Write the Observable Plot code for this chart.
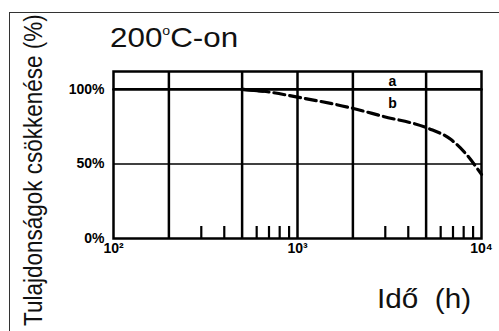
<!DOCTYPE html>
<html><head><meta charset="utf-8">
<script src="https://cdn.jsdelivr.net/npm/d3@7"></script>
<script src="https://cdn.jsdelivr.net/npm/@observablehq/plot@0.6"></script>
<style>
body{margin:0;background:#fff;}
#wrap{position:relative;width:499px;height:331px;overflow:hidden;background:#fff;font-family:"Liberation Sans",Arial,sans-serif;color:#111;}
#frame{position:absolute;left:9px;top:12px;width:520px;height:340px;border-left:1.5px solid #333;border-top:1.5px solid #333;}
#chart{position:absolute;left:0;top:0;}
#title{position:absolute;left:110px;top:17px;font-size:28px;line-height:29px;white-space:nowrap;transform:scaleX(1.12);transform-origin:0 0;}
#title sup{font-size:0.45em;vertical-align:0.95em;}
#xlabel{position:absolute;left:377px;top:285px;font-size:27px;line-height:28px;white-space:pre;transform:scaleX(1.1);transform-origin:0 0;}
#yclip{position:absolute;left:0;top:13px;width:60px;height:318px;overflow:hidden;}
#ylabel{position:absolute;left:0;top:0;font-size:22.5px;line-height:22px;white-space:nowrap;transform-origin:0 0;transform:translate(22px,313px) rotate(-90deg) scaleY(1.13);}
</style>
</head><body>
<div id="wrap">
  <div id="frame"></div>
  <div id="chart"></div>
  <div id="title">200<sup>o</sup>C-on</div>
  <div id="xlabel">Idő  (h)</div>
  <div id="yclip"><div id="ylabel">Tulajdonságok csökkenése (%)</div></div>
</div>
<script>
// Tick values and labels
const majorTicks = [100, 1000, 10000];
const majorLabels = ["10²", "10³", "10⁴"];
const gridHours = [200, 500, 1000, 2000, 5000];
const minorHours = [300, 400, 600, 700, 800, 900, 3000, 4000, 6000, 7000, 8000, 9000];
const yTicks = [0, 50, 100];
const yTickLabels = ["0%", "50%", "100%"];

// Series a (solid, stays at 100%)
const seriesAHours = [100, 10000];
const seriesAValues = [100, 100];

// Series b (dashed, decreasing)
const seriesBHours = [500, 650, 1000, 1950, 2900, 5100, 6800, 8400, 9600, 10000];
const seriesBValues = [100, 98.8, 94.8, 87.6, 82, 74, 66.5, 55.5, 46, 43];

// Curve labels
const curveNames = ["a", "b"];
const curveLabelHours = [3280, 3280];
const curveLabelValues = [105.4, 90.6];

const aData = seriesAHours.map((h, i) => ({h, v: seriesAValues[i]}));
const bData = seriesBHours.map((h, i) => ({h, v: seriesBValues[i]}));
const bStart = bData.slice(0, 2);
const labelData = curveNames.map((t, i) => ({t, h: curveLabelHours[i], v: curveLabelValues[i]}));

const chart = Plot.plot({
  width: 499,
  height: 331,
  marginLeft: 113,
  marginRight: 18,
  marginTop: 71,
  marginBottom: 93,
  style: {background: "transparent", fontFamily: "Liberation Sans, Arial, sans-serif", color: "#000"},
  x: {type: "log", domain: [100, 10000]},
  y: {domain: [0, 112]},
  marks: [
    Plot.ruleX(gridHours, {stroke: "#000", strokeWidth: 2.5}),
    Plot.ruleY([50], {stroke: "#000", strokeWidth: 1.6}),
    Plot.axisX(minorHours, {anchor: "bottom", tickSize: -12, tickFormat: () => "", strokeWidth: 2.2, label: null}),
    Plot.axisX(majorTicks, {anchor: "bottom", tickSize: 0, tickPadding: 5, tickFormat: (d) => majorLabels[majorTicks.indexOf(d)], fontSize: 14, fontWeight: "bold", label: null}),
    Plot.axisY(yTicks, {anchor: "left", tickSize: 0, tickPadding: 9, tickFormat: (d) => yTickLabels[yTicks.indexOf(d)], fontSize: 14, fontWeight: "bold", label: null}),
    Plot.line(aData, {x: "h", y: "v", stroke: "#000", strokeWidth: 2.6}),
    Plot.line(bStart, {x: "h", y: "v", stroke: "#000", strokeWidth: 3.2}),
    Plot.line(bData, {x: "h", y: "v", stroke: "#000", strokeWidth: 3.2, strokeDasharray: "11,5", curve: "monotone-x"}),
    Plot.text(labelData, {x: "h", y: "v", text: "t", fontSize: 14, fontWeight: "bold", fill: "#000"}),
    Plot.frame({stroke: "#000", strokeWidth: 2.5})
  ]
});
document.getElementById("chart").appendChild(chart);
</script>
</body></html>
